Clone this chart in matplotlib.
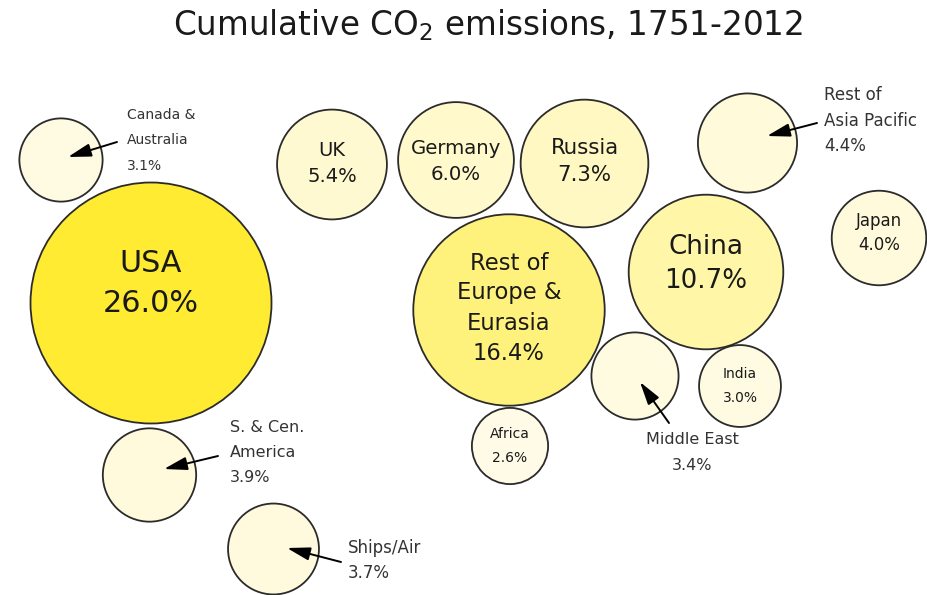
import matplotlib
matplotlib.use('Agg')
import numpy as np
import matplotlib.pyplot as plt
from matplotlib.patches import Circle
from matplotlib.colors import LinearSegmentedColormap

plt.rcParams['font.family'] = ['DejaVu Sans']
plt.rcParams['mathtext.default'] = 'regular'

# datos: region, cuota acumulada (%) y posicion del centro de cada burbuja
regiones = ["USA", "Canada &\nAustralia", "S. & Cen.\nAmerica", "Ships/Air",
            "UK", "Germany", "Russia", "Rest of\nEurope &\nEurasia", "Africa",
            "Middle East", "China", "India", "Rest of\nAsia Pacific", "Japan"]
cuota = [26.0, 3.1, 3.9, 3.7, 5.4, 6.0, 7.3, 16.4, 2.6, 3.4, 10.7, 3.0, 4.4, 4.0]
pos_x = [151, 61, 149.5, 273.5, 332, 456, 584.5, 509, 510, 635, 706, 740, 747.5, 879]
pos_y = [303, 160, 475, 549, 164.5, 160, 163.5, 310, 446, 376, 272, 386, 143, 238]

R_MAX = 120.5  # radio (px) de la burbuja mas grande

# etiquetas dentro del circulo: tamaño de letra, desplazamiento vertical, separacion entre lineas
dentro = {
    "USA": (21.8, -20, 40),
    "UK": (14, -1, 27),
    "Germany": (14.2, 1, 26),
    "Russia": (15.3, -2, 27),
    "Rest of\nEurope &\nEurasia": (16.3, -2, 30),
    "Africa": (10, 0, 25),
    "China": (18.8, -8, 33),
    "India": (10, 0, 25),
    "Japan": (12, -5, 24),
}

# etiquetas con flecha: texto (x, y primera linea), alineacion, tamaño, separacion, cola, offset de la punta
fuera = {
    "Canada &\nAustralia": ((127, 115), 'left', 10, 25.5, (117, 142), (7, -3)),
    "S. & Cen.\nAmerica": ((230, 428), 'left', 11.5, 24.5, (218, 456), (14.5, -6)),
    "Ships/Air": ((348, 548), 'left', 12, 25, (341, 562), (13.5, -1)),
    "Rest of\nAsia Pacific": ((824, 95), 'left', 12, 25.5, (817, 123), (19.5, -7)),
    "Middle East": ((692, 440), 'center', 11.5, 26, (669, 423), (5, 6)),
}

cmap = LinearSegmentedColormap.from_list('amarillo', ['#FFFBE6', '#FFEC32'])


def lineas(ax, x, y0, textos, gap, **kw):
    for i, t in enumerate(textos):
        ax.text(x, y0 + i * gap, t, va='center', **kw)


fig = plt.figure(figsize=(9.27, 5.95), dpi=100)
ax = fig.add_axes([0, 0, 1, 1])
ax.set_xlim(0, 927)
ax.set_ylim(595, 0)
ax.axis('off')

cmin, cmax = min(cuota), max(cuota)
for reg, c, x, y in zip(regiones, cuota, pos_x, pos_y):
    r = R_MAX * np.sqrt(c / cmax)
    color = cmap((c - cmin) / (cmax - cmin))
    ax.add_patch(Circle((x, y), r, facecolor=color, edgecolor='#2b2b2b', lw=1.3, zorder=2))
    textos = reg.split('\n') + ['%.1f%%' % c]
    if reg in dentro:
        size, dy, gap = dentro[reg]
        n = len(textos)
        y0 = y + dy - (n - 1) * gap / 2
        lineas(ax, x, y0, textos, gap, ha='center', fontsize=size, color='#1a1a1a', zorder=3)
    else:
        (tx, ty), ha, size, gap, cola, off = fuera[reg]
        lineas(ax, tx, ty, textos, gap, ha=ha, fontsize=size, color='#333333', zorder=3)
        ax.annotate('', xy=(x + off[0], y + off[1]), xytext=cola,
                    arrowprops=dict(arrowstyle='-|>,head_length=0.7,head_width=0.2',
                                    color='black', lw=1.4, mutation_scale=20,
                                    shrinkA=0, shrinkB=0), zorder=4)

ax.text(488, 25, 'Cumulative CO$_2$ emissions, 1751-2012', ha='center', va='center',
        fontsize=23.5, color='#1a1a1a')

plt.savefig('out.png', dpi=100)
